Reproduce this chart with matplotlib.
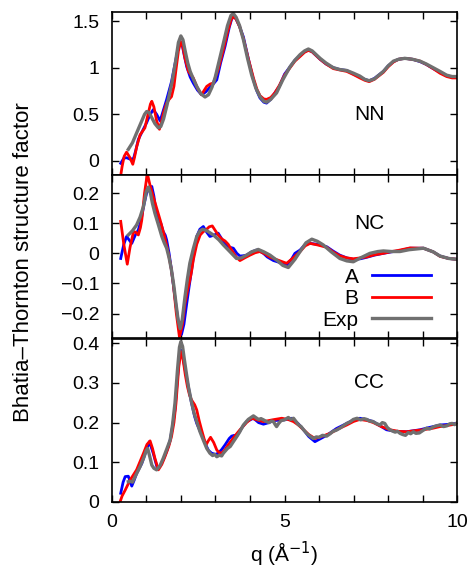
import matplotlib
matplotlib.use("Agg")
import matplotlib.pyplot as plt
from matplotlib.ticker import MultipleLocator, FuncFormatter

plt.rcParams['font.family'] = ['Liberation Sans', 'DejaVu Sans']

# --- NN ---
nn_a_q = [0.26, 0.35, 0.43, 0.53, 0.63, 0.7, 0.77, 0.9, 1.01, 1.1, 1.2, 1.3, 1.4, 1.5, 1.59, 1.73, 1.82,
          1.9, 1.98, 2.04, 2.1, 2.17, 2.27, 2.36, 2.48, 2.6, 2.72, 2.84, 2.95, 3.04, 3.15, 3.28, 3.4,
          3.47, 3.53, 3.6, 3.7, 3.81, 3.95, 4.1, 4.2, 4.29, 4.4, 4.48, 4.6, 4.72, 4.85, 5.0, 5.16, 5.3,
          5.45, 5.58, 5.69, 5.8, 6.03, 6.2, 6.41, 6.6, 6.8, 7.0, 7.18, 7.32, 7.45, 7.6, 7.86, 8.0, 8.15,
          8.3, 8.48, 8.7, 8.92, 9.1, 9.3, 9.5, 9.69, 9.85, 10.0]
nn_a = [-0.025, 0.03, 0.035, 0.02, 0.025, 0.12, 0.23, 0.33, 0.41, 0.49, 0.55, 0.5, 0.43, 0.55, 0.66,
        0.85, 1.02, 1.17, 1.28, 1.24, 1.13, 1.01, 0.9, 0.835, 0.76, 0.71, 0.74, 0.79, 0.83, 0.87, 1.05,
        1.23, 1.43, 1.52, 1.55, 1.52, 1.44, 1.33, 1.1, 0.87, 0.75, 0.675, 0.63, 0.62, 0.66, 0.73, 0.80,
        0.93, 1.01, 1.08, 1.13, 1.17, 1.19, 1.17, 1.09, 1.04, 1.0, 0.98, 0.97, 0.93, 0.90, 0.875, 0.86,
        0.885, 0.96, 1.02, 1.065, 1.09, 1.10, 1.09, 1.065, 1.035, 0.99, 0.95, 0.915, 0.9, 0.9]

nn_b_q = [0.2, 0.3, 0.36, 0.43, 0.52, 0.61, 0.66, 0.72, 0.82, 0.96, 1.05, 1.12, 1.16, 1.22, 1.3, 1.38,
          1.45, 1.5, 1.59, 1.66, 1.73, 1.8, 1.86, 1.93, 2.0, 2.05, 2.12, 2.22, 2.3, 2.36, 2.48, 2.6, 2.68,
          2.75, 2.85, 2.94, 3.08, 3.23, 3.35, 3.45, 3.52, 3.6, 3.7, 3.81, 3.95, 4.1, 4.2, 4.29, 4.4,
          4.48, 4.6, 4.72, 4.85, 5.0, 5.16, 5.3, 5.45, 5.58, 5.69, 5.8, 6.03, 6.2, 6.41, 6.6, 6.8, 7.0,
          7.18, 7.32, 7.45, 7.6, 7.86, 8.0, 8.15, 8.3, 8.48, 8.7, 8.92, 9.1, 9.3, 9.5, 9.69, 9.85, 10.0]
nn_b = [-0.3, -0.06, 0.05, 0.095, 0.04, -0.035, 0.04, 0.15, 0.28, 0.355, 0.5, 0.61, 0.64, 0.58, 0.43,
        0.34, 0.44, 0.52, 0.62, 0.66, 0.69, 0.8, 0.98, 1.18, 1.28, 1.24, 1.1, 0.96, 0.92, 0.89, 0.78,
        0.71, 0.76, 0.80, 0.825, 0.835, 0.98, 1.19, 1.38, 1.51, 1.55, 1.52, 1.44, 1.31, 1.1, 0.89, 0.77,
        0.70, 0.665, 0.66, 0.68, 0.73, 0.81, 0.92, 1.0, 1.07, 1.12, 1.165, 1.185, 1.17, 1.09, 1.04, 0.99,
        0.975, 0.96, 0.925, 0.89, 0.865, 0.85, 0.875, 0.95, 1.01, 1.06, 1.09, 1.10, 1.09, 1.07, 1.035,
        0.99, 0.94, 0.905, 0.89, 0.89]

nn_exp_q = [0.48, 0.6, 0.72, 0.87, 0.95, 1.01, 1.08, 1.15, 1.25, 1.35, 1.42, 1.5, 1.6, 1.74, 1.85, 1.93,
            2.0, 2.06, 2.13, 2.2, 2.27, 2.36, 2.46, 2.58, 2.7, 2.8, 2.9, 2.99, 3.1, 3.23, 3.35, 3.45,
            3.52, 3.6, 3.7, 3.81, 3.93, 4.05, 4.17, 4.29, 4.4, 4.48, 4.6, 4.77, 4.95, 5.16, 5.3, 5.45,
            5.58, 5.69, 5.8, 6.03, 6.2, 6.41, 6.6, 6.8, 7.0, 7.18, 7.32, 7.45, 7.6, 7.86, 8.0, 8.15, 8.3,
            8.48, 8.7, 8.92, 9.1, 9.3, 9.5, 9.69, 9.85, 10.0]
nn_exp = [0.125, 0.195, 0.30, 0.43, 0.5, 0.53, 0.52, 0.47, 0.4, 0.355, 0.37, 0.45, 0.6, 0.835, 1.07,
          1.27, 1.34, 1.30, 1.17, 1.05, 0.96, 0.88, 0.80, 0.72, 0.686, 0.71, 0.79, 0.89, 1.06, 1.26, 1.45,
          1.56, 1.58, 1.54, 1.45, 1.30, 1.1, 0.92, 0.78, 0.69, 0.64, 0.63, 0.66, 0.73, 0.87, 1.01, 1.08,
          1.14, 1.18, 1.20, 1.18, 1.10, 1.05, 1.0, 0.98, 0.97, 0.94, 0.91, 0.875, 0.86, 0.88, 0.96, 1.02,
          1.07, 1.09, 1.10, 1.09, 1.07, 1.04, 1.0, 0.96, 0.92, 0.905, 0.905]

# --- NC ---
nc_a_q = [0.26, 0.35, 0.43, 0.5, 0.58, 0.68, 0.77, 0.85, 0.93, 1.01, 1.08, 1.16, 1.22, 1.28, 1.35, 1.42,
          1.49, 1.55, 1.59, 1.66, 1.73, 1.8, 1.88, 1.95, 2.02, 2.09, 2.17, 2.24, 2.31, 2.38, 2.46, 2.55,
          2.65, 2.75, 2.84, 2.95, 3.08, 3.2, 3.32, 3.42, 3.52, 3.62, 3.71, 3.8, 3.9, 4.05, 4.19, 4.3,
          4.39, 4.5, 4.68, 4.85, 5.06, 5.2, 5.3, 5.45, 5.6, 5.74, 5.95, 6.22, 6.4, 6.6, 6.8, 6.99, 7.2,
          7.38, 7.6, 7.86, 8.1, 8.3, 8.63, 9.02, 9.3, 9.5, 9.75, 10.0]
nc_a = [-0.017, 0.03, 0.056, 0.045, 0.033, 0.06, 0.078, 0.11, 0.16, 0.2, 0.215, 0.222, 0.19, 0.14, 0.111,
        0.1, 0.072, 0.06, 0.044, 0.0, -0.056, -0.12, -0.19, -0.245, -0.269, -0.235, -0.167, -0.11,
        -0.056, 0.0, 0.056, 0.08, 0.089, 0.07, 0.056, 0.06, 0.067, 0.045, 0.028, 0.02, 0.017, 0.0,
        -0.009, -0.008, -0.006, 0.005, 0.011, 0.006, 0.0, -0.012, -0.024, -0.03, -0.039, -0.02, 0.0,
        0.011, 0.03, 0.033, 0.03, 0.022, 0.008, -0.006, -0.015, -0.02, -0.018, -0.013, -0.006, 0.0,
        0.005, 0.008, 0.017, 0.017, 0.005, -0.009, -0.017, -0.02]

nc_b_q = [0.26, 0.35, 0.45, 0.53, 0.63, 0.7, 0.77, 0.83, 0.87, 0.95, 1.03, 1.1, 1.2, 1.3, 1.4, 1.52,
          1.64, 1.72, 1.78, 1.87, 1.96, 2.04, 2.12, 2.19, 2.26, 2.31, 2.36, 2.46, 2.56, 2.65, 2.73, 2.82,
          2.91, 3.0, 3.08, 3.18, 3.28, 3.37, 3.47, 3.6, 3.71, 3.85, 4.0, 4.15, 4.29, 4.45, 4.58, 4.8,
          5.06, 5.25, 5.45, 5.6, 5.74, 5.95, 6.22, 6.4, 6.6, 6.8, 6.99, 7.2, 7.38, 7.6, 7.86, 8.1, 8.3,
          8.63, 9.02, 9.3, 9.5, 9.75, 10.0]
nc_b = [0.106, 0.03, -0.036, 0.02, 0.072, 0.07, 0.061, 0.085, 0.111, 0.2, 0.265, 0.23, 0.189, 0.15,
        0.111, 0.06, 0.0, -0.05, -0.1, -0.2, -0.278, -0.24, -0.167, -0.125, -0.089, -0.06, -0.022, 0.03,
        0.061, 0.072, 0.078, 0.088, 0.091, 0.075, 0.061, 0.048, 0.041, 0.03, 0.011, -0.012, -0.024,
        -0.015, -0.006, 0.002, 0.006, -0.003, -0.013, -0.022, -0.033, -0.015, 0.006, 0.025, 0.033,
        0.028, 0.02, 0.005, -0.008, -0.015, -0.018, -0.015, -0.012, -0.005, 0.0, 0.006, 0.01, 0.018,
        0.017, 0.005, -0.01, -0.017, -0.02]

nc_exp_q = [0.48, 0.6, 0.72, 0.82, 0.92, 1.0, 1.06, 1.12, 1.18, 1.25, 1.35, 1.45, 1.52, 1.59, 1.66, 1.73,
            1.8, 1.86, 1.92, 1.98, 2.04, 2.12, 2.19, 2.26, 2.36, 2.46, 2.55, 2.63, 2.75, 2.94, 3.1, 3.23,
            3.4, 3.61, 3.75, 3.9, 4.05, 4.24, 4.4, 4.58, 4.8, 4.95, 5.11, 5.3, 5.45, 5.62, 5.79, 5.95,
            6.12, 6.35, 6.6, 6.8, 6.99, 7.2, 7.47, 7.7, 7.86, 8.1, 8.34, 8.6, 9.02, 9.3, 9.5, 9.75, 10.0]
nc_exp = [0.061, 0.075, 0.094, 0.12, 0.156, 0.205, 0.22, 0.2, 0.165, 0.133, 0.095, 0.056, 0.035, 0.017,
          -0.015, -0.056, -0.11, -0.167, -0.22, -0.25, -0.22, -0.144, -0.085, -0.033, 0.015, 0.056,
          0.074, 0.08, 0.075, 0.061, 0.045, 0.028, 0.008, -0.017, -0.015, -0.006, 0.005, 0.013, 0.005,
          -0.006, -0.025, -0.04, -0.047, -0.02, 0.006, 0.035, 0.047, 0.04, 0.028, 0.005, -0.017, -0.025,
          -0.028, -0.015, 0.0, 0.006, 0.008, 0.006, 0.006, 0.012, 0.017, 0.005, -0.009, -0.017, -0.02]

# --- CC ---
cc_a_q = [0.26, 0.33, 0.39, 0.48, 0.58, 0.65, 0.72, 0.87, 1.0, 1.09, 1.2, 1.32, 1.4, 1.49, 1.6, 1.69,
          1.76, 1.83, 1.9, 1.96, 2.0, 2.05, 2.1, 2.17, 2.24, 2.31, 2.4, 2.46, 2.55, 2.6, 2.7, 2.8, 2.89,
          3.0, 3.08, 3.18, 3.28, 3.4, 3.47, 3.55, 3.61, 3.75, 3.9, 4.1, 4.25, 4.39, 4.55, 4.68, 5.0,
          5.21, 5.4, 5.55, 5.7, 5.88, 6.05, 6.22, 6.5, 6.8, 7.0, 7.18, 7.4, 7.57, 7.8, 7.95, 8.2, 8.53,
          8.92, 9.2, 9.5, 9.8, 10.0]
cc_a = [0.022, 0.05, 0.064, 0.065, 0.04, 0.055, 0.072, 0.097, 0.13, 0.152, 0.123, 0.085, 0.09, 0.106,
        0.13, 0.156, 0.19, 0.232, 0.31, 0.37, 0.383, 0.37, 0.345, 0.312, 0.28, 0.249, 0.215, 0.198, 0.18,
        0.173, 0.148, 0.13, 0.123, 0.12, 0.123, 0.132, 0.144, 0.16, 0.166, 0.168, 0.165, 0.185, 0.2025,
        0.211, 0.2, 0.196, 0.2, 0.205, 0.207, 0.211, 0.197, 0.182, 0.165, 0.152, 0.16, 0.168, 0.185,
        0.198, 0.207, 0.211, 0.207, 0.2025, 0.19, 0.182, 0.178, 0.177, 0.182, 0.188, 0.194, 0.196, 0.198]

cc_b_q = [0.24, 0.3, 0.39, 0.53, 0.72, 0.92, 1.02, 1.11, 1.18, 1.25, 1.35, 1.45, 1.54, 1.65, 1.73, 1.8,
          1.86, 1.94, 2.0, 2.04, 2.08, 2.13, 2.19, 2.25, 2.31, 2.4, 2.46, 2.53, 2.6, 2.67, 2.73, 2.8,
          2.86, 2.95, 3.04, 3.1, 3.18, 3.28, 3.37, 3.55, 3.71, 3.9, 4.05, 4.2, 4.39, 4.65, 4.92, 5.1,
          5.26, 5.4, 5.55, 5.7, 5.88, 6.1, 6.32, 6.55, 6.8, 7.0, 7.18, 7.4, 7.57, 7.8, 8.05, 8.3, 8.53,
          8.8, 9.02, 9.3, 9.5, 9.8, 10.0]
cc_b = [0.0, 0.015, 0.03, 0.055, 0.081, 0.123, 0.145, 0.154, 0.135, 0.11, 0.081, 0.095, 0.114, 0.14,
        0.165, 0.2, 0.249, 0.34, 0.379, 0.37, 0.35, 0.32, 0.291, 0.27, 0.257, 0.245, 0.232, 0.205, 0.182,
        0.16, 0.144, 0.155, 0.163, 0.15, 0.131, 0.125, 0.123, 0.132, 0.144, 0.165, 0.182, 0.2, 0.211,
        0.207, 0.2025, 0.207, 0.211, 0.208, 0.2025, 0.194, 0.182, 0.17, 0.16, 0.166, 0.173, 0.184, 0.194,
        0.203, 0.208, 0.205, 0.2, 0.19, 0.182, 0.178, 0.177, 0.18, 0.182, 0.186, 0.19, 0.194, 0.197]

cc_exp_q = [0.48, 0.55, 0.6, 0.7, 0.82, 0.92, 1.0, 1.04, 1.1, 1.16, 1.22, 1.3, 1.4, 1.49, 1.6, 1.69,
            1.76, 1.83, 1.9, 1.96, 2.0, 2.05, 2.1, 2.15, 2.22, 2.3, 2.38, 2.46, 2.55, 2.65, 2.75, 2.84,
            2.92, 2.98, 3.04, 3.12, 3.18, 3.23, 3.35, 3.43, 3.52, 3.62, 3.7, 3.81, 3.95, 4.05, 4.1, 4.18,
            4.25, 4.32, 4.39, 4.47, 4.55, 4.62, 4.68, 4.73, 4.77, 4.83, 4.9, 5.0, 5.11, 5.18, 5.26, 5.33,
            5.4, 5.48, 5.55, 5.65, 5.75, 5.83, 5.92, 6.0, 6.1, 6.22, 6.32, 6.4, 6.5, 6.6, 6.7, 6.8, 6.9,
            6.99, 7.1, 7.2, 7.3, 7.38, 7.46, 7.55, 7.65, 7.76, 7.83, 7.9, 7.97, 8.05, 8.12, 8.2, 8.27,
            8.34, 8.42, 8.5, 8.58, 8.65, 8.73, 8.8, 8.9, 9.0, 9.11, 9.2, 9.3, 9.4, 9.5, 9.6, 9.7, 9.78,
            9.85, 9.92, 10.0]
cc_exp = [0.051, 0.052, 0.05, 0.068, 0.089, 0.11, 0.13, 0.135, 0.115, 0.093, 0.085, 0.081, 0.092, 0.11,
          0.135, 0.156, 0.195, 0.249, 0.33, 0.39, 0.404, 0.392, 0.36, 0.33, 0.29, 0.255, 0.225, 0.2025,
          0.178, 0.156, 0.135, 0.123, 0.117, 0.12, 0.114, 0.118, 0.116, 0.123, 0.135, 0.14, 0.152, 0.165,
          0.176, 0.194, 0.208, 0.214, 0.217, 0.212, 0.208, 0.21, 0.207, 0.203, 0.20, 0.204, 0.2025, 0.195,
          0.19, 0.198, 0.205, 0.207, 0.213, 0.208, 0.211, 0.203, 0.195, 0.19, 0.182, 0.172, 0.165, 0.16,
          0.164, 0.163, 0.168, 0.166, 0.172, 0.178, 0.181, 0.186, 0.192, 0.198, 0.202, 0.208, 0.211,
          0.207, 0.21, 0.208, 0.204, 0.203, 0.198, 0.194, 0.2, 0.198, 0.188, 0.182, 0.179, 0.176, 0.178,
          0.173, 0.17, 0.168, 0.175, 0.172, 0.177, 0.173, 0.174, 0.18, 0.186, 0.184, 0.189, 0.192, 0.194,
          0.19, 0.192, 0.197, 0.198, 0.195, 0.2]

panel_names = ['NN', 'NC', 'CC']
series_labels = ['A', 'B', 'Exp']
colors = ['#0000ff', '#ff0000', '#707070']
widths = [2.0, 2.0, 2.4]

panels = [
    [(nn_a_q, nn_a), (nn_b_q, nn_b), (nn_exp_q, nn_exp)],
    [(nc_a_q, nc_a), (nc_b_q, nc_b), (nc_exp_q, nc_exp)],
    [(cc_a_q, cc_a), (cc_b_q, cc_b), (cc_exp_q, cc_exp)],
]
ylims = [(-0.15, 1.6), (-0.28, 0.26), (0.0, 0.41)]
ysteps = [0.5, 0.1, 0.1]
label_y = [0.5, 0.1, 0.3]
# axes boxes in figure fractions
boxes = [
    [0.2347, 0.6930, 0.7261, 0.2865],
    [0.2347, 0.4075, 0.7261, 0.2855],
    [0.2347, 0.1193, 0.7261, 0.2855],
]

fig = plt.figure(figsize=(4.76, 5.70), dpi=100)

def fmt(v, pos):
    s = ('%.1f' % v).rstrip('0').rstrip('.')
    if s in ('-0', ''):
        s = '0'
    return s.replace('-', '\u2212')

axes = []
for i, box in enumerate(boxes):
    ax = fig.add_axes(box)
    for (q, v), c, lw, lab in zip(panels[i], colors, widths, series_labels):
        ax.plot(q, v, color=c, lw=lw, label=lab)
    ax.set_xlim(0, 10)
    ax.set_ylim(*ylims[i])
    ax.xaxis.set_major_locator(MultipleLocator(1))
    ax.yaxis.set_major_locator(MultipleLocator(ysteps[i]))
    ax.yaxis.set_major_formatter(FuncFormatter(fmt))
    if i == 2:
        ax.xaxis.set_major_formatter(FuncFormatter(lambda v, p: '%d' % v if v % 5 == 0 else ''))
    else:
        ax.tick_params(labelbottom=False)
    ax.tick_params(direction='in', top=True, right=True, length=5, width=1.0,
                   labelsize=14, pad=9)
    for sp in ax.spines.values():
        sp.set_linewidth(1.2)
    ax.text(7.45, label_y[i], panel_names[i], fontsize=15, ha='center', va='center')
    axes.append(ax)

leg = axes[1].legend(loc='upper right', bbox_to_anchor=(0.925, 0.43), frameon=False,
                     markerfirst=False, fontsize=15, handlelength=2.85, handletextpad=0.65,
                     labelspacing=0.12, borderpad=0, borderaxespad=0)
leg.get_children()[0].get_children()[1].get_children()[0].align = 'right'

axes[2].set_xlabel('q (\u00c5$^{-1}$)', fontsize=15, labelpad=6)
fig.text(0.05, 1 - 262 / 570, 'Bhatia\u2013Thornton structure factor', rotation=90,
         fontsize=16, ha='center', va='center')

fig.savefig('out.png', dpi=100)
